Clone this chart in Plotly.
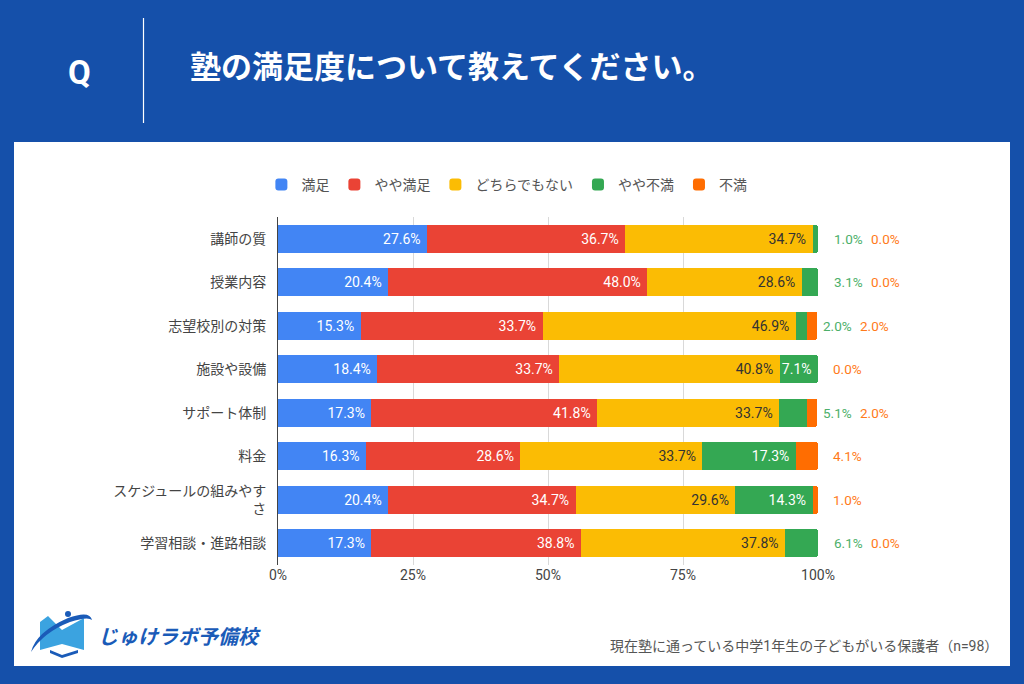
import plotly.graph_objects as go

categories = ["講師の質", "授業内容", "志望校別の対策", "施設や設備", "サポート体制", "料金",
              "スケジュールの組みやす<br>さ", "学習相談・進路相談"]
series_names = ["満足", "やや満足", "どちらでもない", "やや不満", "不満"]
manzoku = [27.6, 20.4, 15.3, 18.4, 17.3, 16.3, 20.4, 17.3]
yaya_manzoku = [36.7, 48.0, 33.7, 33.7, 41.8, 28.6, 34.7, 38.8]
dochira = [34.7, 28.6, 46.9, 40.8, 33.7, 33.7, 29.6, 37.8]
yaya_fuman = [1.0, 3.1, 2.0, 7.1, 5.1, 17.3, 14.3, 6.1]
fuman = [0.0, 0.0, 2.0, 0.0, 2.0, 4.1, 1.0, 0.0]
tick_vals = [0, 25, 50, 75, 100]
tick_text = ["0%", "25%", "50%", "75%", "100%"]
title_text = "塾の満足度について教えてください。"
footnote = "現在塾に通っている中学1年生の子どもがいる保護者（n=98）"
brand = "じゅけラボ予備校"

colors = ["#4285F4", "#EA4335", "#FBBC04", "#34A853", "#FF6D01"]
out_colors = {3: "#4CAF6A", 4: "#FF7A1A"}
text_colors = ["white", "white", "#333333", "white", "white"]
FONT = "Roboto, 'Noto Sans CJK JP', sans-serif"
BG = "#1550AA"
W, H = 1024, 684
X0, X1 = 278, 818          # plot area horizontal pixel extent
Y0, Y1 = 217, 565          # plot area vertical pixel extent
PAD = "\u00a0"             # small padding after inside labels

values = [manzoku, yaya_manzoku, dochira, yaya_fuman, fuman]

fig = go.Figure()
for i, (name, vals) in enumerate(zip(series_names, values)):
    if i <= 2:
        txt = [f"{v:.1f}%{PAD}" for v in vals]
    elif i == 3:
        txt = [f"{v:.1f}%{PAD}" if v >= 7 else "" for v in vals]
    else:
        txt = ["" for v in vals]
    fig.add_trace(go.Bar(
        y=categories, x=vals, name=name, orientation="h",
        marker=dict(color=colors[i], line=dict(width=0)),
        text=txt, textposition="inside", insidetextanchor="end",
        textfont=dict(color=text_colors[i], size=14, family=FONT),
        textangle=0, constraintext="none",
        hoverinfo="x+name",
    ))


def px_x(p):
    return p / W


def px_y(p):
    return 1 - p / H


row_h = (Y1 - Y0) / len(categories)

# outside labels for small segments (placed to the right of the bars)
annotations = []
for r, cat in enumerate(categories):
    labels = []
    if yaya_fuman[r] < 7:
        labels.append((3, yaya_fuman[r]))
    labels.append((4, fuman[r]))
    if len(labels) == 2:
        start = 823 if fuman[r] > 0 else 834
    else:
        start = 833
    x = start
    yc = Y0 + row_h * (r + 0.5)
    for (si, v) in labels:
        annotations.append(dict(
            x=px_x(x), y=px_y(yc), xref="paper", yref="paper", text=f"{v:.1f}%", showarrow=False,
            xanchor="left", yanchor="middle", xshift=-2,
            font=dict(color=out_colors[si], size=13.5, family=FONT)))
        x += 37

# header
annotations += [
    dict(x=px_x(79), y=px_y(72), xref="paper", yref="paper", text="<b>Q</b>",
         showarrow=False, xanchor="center", yanchor="middle",
         font=dict(color="white", size=33, family=FONT)),
    dict(x=px_x(188), y=px_y(68), xref="paper", yref="paper", text=f"<b>{title_text}</b>",
         showarrow=False, xanchor="left", yanchor="middle",
         font=dict(color="white", size=31, family=FONT)),
    dict(x=px_x(1000), y=px_y(646), xref="paper", yref="paper", text=footnote,
         showarrow=False, xanchor="right", yanchor="middle",
         font=dict(color="#555555", size=14, family=FONT)),
    dict(x=px_x(96), y=px_y(637), xref="paper", yref="paper", text=f"<b><i>{brand}</i></b>",
         showarrow=False, xanchor="left", yanchor="middle",
         font=dict(color="#1A5BB8", size=20, family=FONT)),
]

shapes = [
    dict(type="rect", xref="paper", yref="paper", x0=px_x(14), x1=px_x(1010),
         y0=px_y(666), y1=px_y(142), fillcolor="white", line=dict(width=0), layer="below"),
    dict(type="line", xref="paper", yref="paper", x0=px_x(143.5), x1=px_x(143.5),
         y0=px_y(18), y1=px_y(123), line=dict(color="white", width=1.2)),
    # logo: book pages
    dict(type="path", xref="paper", yref="paper",
         path=f"M {px_x(40)},{px_y(622)} L {px_x(40)},{px_y(650)} L {px_x(62)},{px_y(644)} L {px_x(84)},{px_y(650)} L {px_x(84)},{px_y(618)} L {px_x(62)},{px_y(630)} L {px_x(48)},{px_y(616)} Z",
         fillcolor="#3BA3E0", line=dict(width=0)),
    # logo: book base
    dict(type="path", xref="paper", yref="paper",
         path=f"M {px_x(50)},{px_y(650)} L {px_x(62)},{px_y(655)} L {px_x(78)},{px_y(650)} L {px_x(78)},{px_y(653)} L {px_x(62)},{px_y(658)} L {px_x(50)},{px_y(653)} Z",
         fillcolor="#1A5BB8", line=dict(width=0)),
    # logo: swoosh
    dict(type="path", xref="paper", yref="paper",
         path=f"M {px_x(31)},{px_y(652)} Q {px_x(36)},{px_y(632)} {px_x(68)},{px_y(618)} Q {px_x(90)},{px_y(610)} {px_x(92)},{px_y(620)} Q {px_x(88)},{px_y(616)} {px_x(70)},{px_y(622)} Q {px_x(44)},{px_y(632)} {px_x(31)},{px_y(652)} Z",
         fillcolor="#1A5BB8", line=dict(width=0)),
    dict(type="circle", xref="paper", yref="paper", x0=px_x(65), x1=px_x(71),
         y0=px_y(617), y1=px_y(611), fillcolor="#1A5BB8", line=dict(width=0)),
]

fig.update_layout(
    width=W, height=H, autosize=False, margin=dict(l=0, r=0, t=0, b=0, pad=0, autoexpand=False),
    paper_bgcolor=BG, plot_bgcolor="white",
    barmode="stack", bargap=0.35, barcornerradius=3,
    font=dict(family=FONT, size=14, color="#444444"),
    showlegend=True,
    legend=dict(orientation="h", x=0.495, xanchor="center", y=px_y(185), yanchor="middle",
                bgcolor="rgba(0,0,0,0)",
                font=dict(size=14, color="#555555"), traceorder="normal",
                itemclick=False, itemdoubleclick=False),
    xaxis=dict(domain=[px_x(X0), px_x(X1)], range=[0, 100], tickvals=tick_vals, ticktext=tick_text,
               showgrid=True, gridcolor="#D9D9D9", gridwidth=1, zeroline=False, automargin=False,
               showline=False, ticks="", tickfont=dict(size=14, color="#444444"), fixedrange=True),
    yaxis=dict(domain=[px_y(Y1), px_y(Y0)], autorange="reversed", showgrid=False, automargin=False,
               ticks="", ticklabelstandoff=8, tickfont=dict(size=14, color="#444444"),
               showline=True, linecolor="#444444", linewidth=1, fixedrange=True),
    annotations=annotations, shapes=shapes,
    uniformtext=dict(mode=False),
)

post = ("document.body.style.margin='0';document.body.style.overflow='hidden';")
fig.write_html("out.html", config={"responsive": False, "displayModeBar": False}, post_script=post)
